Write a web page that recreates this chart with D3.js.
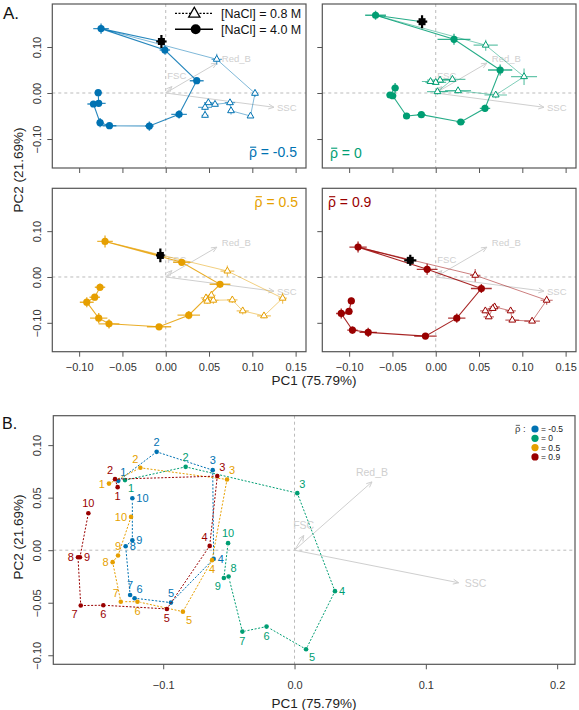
<!DOCTYPE html>
<html>
<head>
<meta charset="utf-8">
<script src="https://cdn.jsdelivr.net/npm/d3@7"></script>
<style>
body { margin: 0; background: #fff; }
svg text { font-family: "Liberation Sans", Arial, Helvetica, sans-serif; }
</style>
</head>
<body>
<div id="chart"></div>
<script>
// Groups and colours
const rhoValues = ["-0.5", "0", "0.5", "0.9"];
const groupColors = ["#0072B2", "#009E73", "#E69F00", "#990000"];

// Panel A, [NaCl] = 4.0 M : [PC1, PC2, PC1 err, PC2 err], times 1..10
const high_m05 = [
    [-0.0747, 0.140, 0.009, 0.011], [-0.001, 0.0935, 0.006, 0.010], [0.0358, 0.0268, 0.008, 0.006],
    [0.0154, -0.0464, 0.009, 0.009], [-0.0189, -0.0718, 0.005, 0.010], [-0.065, -0.071, 0.008, 0.005],
    [-0.0758, -0.0645, 0.004, 0.010], [-0.0835, -0.0239, 0.007, 0.004], [-0.0774, -0.0225, 0.008, 0.004],
    [-0.078, 0.0007, 0.004, 0.006]
];
const high_0 = [
    [-0.0695, 0.169, 0.012, 0.010], [0.0211, 0.1167, 0.019, 0.012], [0.0744, 0.050, 0.014, 0.012],
    [0.0569, -0.0333, 0.006, 0.008], [0.0289, -0.063, 0.005, 0.006], [-0.0166, -0.047, 0.005, 0.005],
    [-0.0337, -0.050, 0.004, 0.004], [-0.0497, -0.0059, 0.004, 0.005], [-0.0528, -0.0043, 0.004, 0.004],
    [-0.0469, 0.0109, 0.004, 0.011]
];
const high_05 = [
    [-0.0701, 0.0776, 0.009, 0.013], [0.0185, 0.032, 0.010, 0.006], [0.0627, -0.0159, 0.012, 0.006],
    [0.0266, -0.0833, 0.013, 0.009], [-0.0077, -0.1087, 0.014, 0.005], [-0.0655, -0.1022, 0.012, 0.010],
    [-0.0774, -0.0898, 0.010, 0.011], [-0.0912, -0.055, 0.008, 0.011], [-0.082, -0.0441, 0.006, 0.007],
    [-0.0759, -0.0224, 0.006, 0.008]
];
const high_09 = [
    [-0.0897, 0.0652, 0.010, 0.012], [-0.0099, 0.0167, 0.012, 0.012], [0.0527, -0.0252, 0.012, 0.010],
    [0.0243, -0.0898, 0.010, 0.010], [-0.0119, -0.129, 0.013, 0.006], [-0.078, -0.1209, 0.010, 0.010],
    [-0.0962, -0.1159, 0.006, 0.008], [-0.1091, -0.0796, 0.006, 0.011], [-0.1002, -0.0752, 0.004, 0.005],
    [-0.0975, -0.0522, 0.004, 0.007]
];

// Panel A, [NaCl] = 0.8 M : times 2..10 (time 1 is shared)
const low_m05 = [
    [0.0589, 0.0733, 0.006, 0.012], [0.1031, -0.0007, 0.003, 0.008], [0.0979, -0.050, 0.003, 0.004],
    [0.0754, -0.0385, 0.003, 0.008], [0.0742, -0.0211, 0.006, 0.006], [0.0569, -0.0246, 0.004, 0.004],
    [0.0492, -0.0211, 0.005, 0.004], [0.0454, -0.0311, 0.008, 0.006], [0.0454, -0.0485, 0.004, 0.005]
];
const low_0 = [
    [0.0577, 0.104, 0.014, 0.012], [0.102, 0.0355, 0.015, 0.018], [0.0693, -0.0043, 0.013, 0.007],
    [0.0258, 0.005, 0.015, 0.006], [0.002, 0.0029, 0.012, 0.006], [0.0193, 0.0297, 0.015, 0.005],
    [0.005, 0.028, 0.015, 0.005], [0.000, 0.023, 0.012, 0.004], [-0.006, 0.025, 0.010, 0.004]
];
const low_05 = [
    [0.0712, 0.013, 0.008, 0.012], [0.135, -0.0463, 0.005, 0.012], [0.1135, -0.0848, 0.008, 0.005],
    [0.0889, -0.0739, 0.007, 0.008], [0.0769, -0.050, 0.006, 0.007], [0.055, -0.0507, 0.006, 0.008],
    [0.0527, -0.0398, 0.005, 0.008], [0.0465, -0.0457, 0.006, 0.009], [0.048, -0.0528, 0.005, 0.006]
];
const low_09 = [
    [0.0456, 0.0037, 0.006, 0.014], [0.1281, -0.0507, 0.007, 0.010], [0.1113, -0.0963, 0.009, 0.004],
    [0.0884, -0.0941, 0.008, 0.004], [0.0865, -0.0739, 0.006, 0.004], [0.068, -0.0652, 0.006, 0.006],
    [0.0573, -0.0739, 0.006, 0.004], [0.0612, -0.087, 0.006, 0.004], [0.0658, -0.0687, 0.006, 0.005]
];

// Black cross (time 0)
const start_m05 = [-0.005, 0.112, 0.006, 0.014];
const start_0 = [-0.0158, 0.155, 0.006, 0.014];
const start_05 = [-0.0062, 0.047, 0.005, 0.015];
const start_09 = [-0.0294, 0.0363, 0.007, 0.012];

// Variable loadings (arrows)
const loadNames = ["SSC", "Red_B", "FSC"];
const loadPC1 = [0.125, 0.059, 0.007];
const loadPC2 = [-0.031, 0.065, 0.014];

// Panel B, mean trajectories, times 1..10
const meanB_m05 = [[-0.1342, 0.066], [-0.105, 0.0936], [-0.0623, 0.0762], [-0.0616, -0.0083], [-0.0941, -0.0499],
    [-0.1218, -0.0457], [-0.1252, -0.0426], [-0.1286, 0.0038], [-0.1235, 0.0095], [-0.1235, 0.0495]];
const meanB_0 = [[-0.1291, 0.0667], [-0.0829, 0.0793], [0.0021, 0.0543], [0.0308, -0.039], [0.0088, -0.0943],
    [-0.0213, -0.0727], [-0.0397, -0.0775], [-0.0502, -0.0251], [-0.0538, -0.0264], [-0.0506, 0.0067]];
const meanB_05 = [[-0.1413, 0.0634], [-0.1174, 0.0784], [-0.0514, 0.0673], [-0.0628, -0.0095], [-0.085, -0.0585],
    [-0.1196, -0.049], [-0.1323, -0.049], [-0.1385, -0.0114], [-0.1344, -0.0051], [-0.1245, 0.0317]];
const meanB_09 = [[-0.1347, 0.060], [-0.1367, 0.0676], [-0.0588, 0.0705], [-0.0646, 0.0041], [-0.0972, -0.0559],
    [-0.1456, -0.0524], [-0.1628, -0.0527], [-0.1649, -0.0067], [-0.1634, -0.0067], [-0.157, 0.0352]];

// Side of each time label in panel B
const sideB_m05 = ["ne", "n", "n", "e", "n", "ne", "n", "e", "e", "e"];
const sideB_0 = ["se", "n", "ne", "e", "se", "s", "s", "ne", "sw", "n"];
const sideB_05 = ["w", "nw", "ne", "s", "se", "s", "nw", "w", "n", "w"];
const sideB_09 = ["s", "nw", "ne", "nw", "s", "s", "sw", "w", "e", "n"];

// Tick values
const xTicksA = [-0.10, -0.05, 0, 0.05, 0.10, 0.15];
const yTicksA = [-0.10, 0, 0.10];
const xTicksB = [-0.1, 0, 0.1, 0.2];
const yTicksB = [-0.10, -0.05, 0, 0.05, 0.10];

const svg = d3.select("#chart").append("svg")
    .attr("width", 579).attr("height", 710);

const frameColor = "#555";
const refColor = "#bbb";
const arrowColor = "#cfcfcf";

function arrow(g, x0, y0, x1, y1) {
    const a = Math.atan2(y1 - y0, x1 - x0), L = 6, s = 0.42;
    g.append("path")
        .attr("d", `M${x0},${y0}L${x1},${y1}M${x1 - L * Math.cos(a - s)},${y1 - L * Math.sin(a - s)}L${x1},${y1}L${x1 - L * Math.cos(a + s)},${y1 - L * Math.sin(a + s)}`)
        .attr("fill", "none").attr("stroke", arrowColor).attr("stroke-width", 1);
}

// rho with a bar over it
function rhoLabel(g, x, y, text, color, size, anchor) {
    const t = g.append("text")
        .attr("x", x).attr("y", y)
        .attr("text-anchor", anchor)
        .attr("fill", color)
        .style("font-size", size + "px")
        .text(text);
    const ext = t.node().getExtentOfChar(0);
    g.append("line")
        .attr("x1", ext.x + size * 0.08).attr("x2", ext.x + ext.width - size * 0.05)
        .attr("y1", y - size * 0.7).attr("y2", y - size * 0.7)
        .attr("stroke", color).attr("stroke-width", size * 0.08);
}

function styleAxis(ax) {
    ax.select(".domain").remove();
    ax.selectAll(".tick line").attr("stroke", frameColor);
    ax.selectAll(".tick text").attr("fill", "#333").style("font-size", "11px");
}

// ---------- Panel A ----------
const panelsA = [
    { x0: 52.3, x1: 306, y0: 4, y1: 168, hi: high_m05, lo: low_m05, st: start_m05, g: 0, rhoX: 297, rhoY: 157, rhoAnchor: "end", xLab: false, yLab: true },
    { x0: 322.3, x1: 576, y0: 4, y1: 168, hi: high_0, lo: low_0, st: start_0, g: 1, rhoX: 330, rhoY: 158, rhoAnchor: "start", xLab: false, yLab: false },
    { x0: 52.3, x1: 306, y0: 188.3, y1: 351.7, hi: high_05, lo: low_05, st: start_05, g: 2, rhoX: 298, rhoY: 206.5, rhoAnchor: "end", xLab: true, yLab: true },
    { x0: 322.3, x1: 576, y0: 188.3, y1: 351.7, hi: high_09, lo: low_09, st: start_09, g: 3, rhoX: 328, rhoY: 206.5, rhoAnchor: "start", xLab: true, yLab: false }
];

panelsA.forEach(p => {
    const x = d3.scaleLinear().domain([-0.131, 0.162]).range([p.x0, p.x1]);
    const y = d3.scaleLinear().domain([-0.163, 0.1935]).range([p.y1, p.y0]);
    const col = groupColors[p.g];
    const g = svg.append("g");

    // reference lines
    g.append("line").attr("x1", x(0)).attr("x2", x(0)).attr("y1", p.y0).attr("y2", p.y1)
        .attr("stroke", refColor).attr("stroke-dasharray", "3,3");
    g.append("line").attr("x1", p.x0).attr("x2", p.x1).attr("y1", y(0)).attr("y2", y(0))
        .attr("stroke", refColor).attr("stroke-dasharray", "3,3");

    // loadings
    loadNames.forEach((n, i) => {
        const tx = x(loadPC1[i]), ty = y(loadPC2[i]);
        arrow(g, x(0), y(0), tx, ty);
        const lab = g.append("text").attr("fill", arrowColor).style("font-size", "9.5px").text(n);
        if (n === "SSC") lab.attr("x", tx + 3).attr("y", ty + 3.5);
        else if (n === "Red_B") lab.attr("x", tx + 5).attr("y", ty - 1);
        else lab.attr("x", tx + 5).attr("y", ty - 8).attr("text-anchor", "middle");
    });

    const line = d3.line().x(d => x(d[0])).y(d => y(d[1]));

    // 0.8 M trajectory (light)
    g.append("path").datum([p.hi[0]].concat(p.lo)).attr("d", line)
        .attr("fill", "none").attr("stroke", col).attr("stroke-opacity", 0.5).attr("stroke-width", 1);
    // 4.0 M trajectory
    g.append("path").datum([p.st].concat(p.hi)).attr("d", line)
        .attr("fill", "none").attr("stroke", col).attr("stroke-opacity", 0.85).attr("stroke-width", 1.1);

    // error bars
    function bars(data, opacity, width, color) {
        g.selectAll(null).data(data).enter().append("path")
            .attr("d", d => `M${x(d[0] - d[2])},${y(d[1])}H${x(d[0] + d[2])}M${x(d[0])},${y(d[1] - d[3])}V${y(d[1] + d[3])}`)
            .attr("stroke", color).attr("stroke-opacity", opacity).attr("stroke-width", width).attr("fill", "none");
    }
    bars(p.lo, 0.6, 1.2, col);
    bars(p.hi, 0.8, 1.4, col);

    // open triangles (0.8 M)
    g.selectAll(null).data(p.lo).enter().append("path")
        .attr("d", d3.symbol().type(d3.symbolTriangle).size(20))
        .attr("transform", d => `translate(${x(d[0])},${y(d[1])})`)
        .attr("fill", "#fff").attr("stroke", col).attr("stroke-width", 1);
    // filled circles (4.0 M)
    g.selectAll(null).data(p.hi).enter().append("circle")
        .attr("cx", d => x(d[0])).attr("cy", d => y(d[1])).attr("r", 3.6)
        .attr("fill", col);

    // black cross
    bars([p.st], 1, 2.2, "#000");
    g.append("rect").attr("x", x(p.st[0]) - 3.5).attr("y", y(p.st[1]) - 3.5)
        .attr("width", 7).attr("height", 7).attr("fill", "#000");

    // frame
    g.append("rect").attr("x", p.x0).attr("y", p.y0).attr("width", p.x1 - p.x0).attr("height", p.y1 - p.y0)
        .attr("fill", "none").attr("stroke", frameColor).attr("stroke-width", 1.2);

    // axes
    const ax = g.append("g").attr("transform", `translate(0,${p.y1})`)
        .call(d3.axisBottom(x).tickValues(xTicksA).tickSize(5).tickFormat(d3.format(".2f")));
    styleAxis(ax);
    if (p.xLab) ax.selectAll(".tick text").attr("y", 19).attr("dy", 0);
    else ax.selectAll(".tick text").remove();

    const ay = g.append("g").attr("transform", `translate(${p.x0},0)`)
        .call(d3.axisLeft(y).tickValues(yTicksA).tickSize(5).tickFormat(d3.format(".2f")));
    styleAxis(ay);
    if (p.yLab) ay.selectAll(".tick text").attr("transform", "rotate(-90)")
        .attr("x", 0).attr("y", -11).attr("dy", 0).attr("text-anchor", "middle");
    else ay.selectAll(".tick text").remove();

    rhoLabel(g, p.rhoX, p.rhoY, `ρ = ${rhoValues[p.g]}`, col, 14, p.rhoAnchor);
});

// legend for panel A
const legA = svg.append("g");
legA.append("line").attr("x1", 175).attr("x2", 213).attr("y1", 13.3).attr("y2", 13.3)
    .attr("stroke", "#000").attr("stroke-width", 1.2).attr("stroke-dasharray", "2,1.5");
legA.append("path").attr("d", d3.symbol().type(d3.symbolTriangle).size(55))
    .attr("transform", "translate(194.3,13.8)").attr("fill", "#fff").attr("stroke", "#000").attr("stroke-width", 1.3);
legA.append("line").attr("x1", 175).attr("x2", 213).attr("y1", 29.3).attr("y2", 29.3)
    .attr("stroke", "#000").attr("stroke-width", 1.5);
legA.append("circle").attr("cx", 195.7).attr("cy", 29.3).attr("r", 5).attr("fill", "#000");
legA.append("text").attr("x", 221).attr("y", 17.5).style("font-size", "12.5px").attr("fill", "#111").text("[NaCl] = 0.8 M");
legA.append("text").attr("x", 221).attr("y", 33.5).style("font-size", "12.5px").attr("fill", "#111").text("[NaCl] = 4.0 M");

// axis titles panel A
svg.append("text").attr("x", 314).attr("y", 385).attr("text-anchor", "middle")
    .style("font-size", "13.5px").attr("fill", "#222").text("PC1 (75.79%)");
svg.append("text").attr("transform", "translate(23,170) rotate(-90)").attr("text-anchor", "middle")
    .style("font-size", "13.5px").attr("fill", "#222").text("PC2 (21.69%)");
svg.append("text").attr("x", 3).attr("y", 19).style("font-size", "17px").attr("fill", "#111").text("A.");

// ---------- Panel B ----------
const pb = { x0: 53.3, x1: 575, y0: 415.7, y1: 664.3 };
const xB = d3.scaleLinear().domain([-0.1837, 0.2136]).range([pb.x0, pb.x1]);
const yB = d3.scaleLinear().domain([-0.1086, 0.128]).range([pb.y1, pb.y0]);
const gB = svg.append("g");

gB.append("line").attr("x1", xB(0)).attr("x2", xB(0)).attr("y1", pb.y0).attr("y2", pb.y1)
    .attr("stroke", refColor).attr("stroke-dasharray", "3,3");
gB.append("line").attr("x1", pb.x0).attr("x2", pb.x1).attr("y1", yB(0)).attr("y2", yB(0))
    .attr("stroke", refColor).attr("stroke-dasharray", "3,3");

loadNames.forEach((n, i) => {
    const tx = xB(loadPC1[i]), ty = yB(loadPC2[i]);
    arrow(gB, xB(0), yB(0), tx, ty);
    const lab = gB.append("text").attr("fill", arrowColor).style("font-size", "10.5px").text(n);
    if (n === "SSC") lab.attr("x", tx + 6).attr("y", ty + 4);
    else lab.attr("x", tx).attr("y", ty - 6).attr("text-anchor", "middle");
});

const meansB = [meanB_m05, meanB_0, meanB_05, meanB_09];
const sidesB = [sideB_m05, sideB_0, sideB_05, sideB_09];
const offsets = {
    n: [0, -6, "middle"], s: [0, 13, "middle"], e: [4, 4, "start"], w: [-4, 4, "end"],
    ne: [2, -5, "start"], nw: [-2, -5, "end"], se: [3, 12, "start"], sw: [-3, 12, "end"]
};

meansB.forEach((pts, gi) => {
    const col = groupColors[gi];
    const gap = 3;
    for (let i = 0; i < pts.length - 1; i++) {
        const ax0 = xB(pts[i][0]), ay0 = yB(pts[i][1]);
        const ax1 = xB(pts[i + 1][0]), ay1 = yB(pts[i + 1][1]);
        const len = Math.hypot(ax1 - ax0, ay1 - ay0);
        if (len <= 2 * gap) continue;
        const ux = (ax1 - ax0) / len, uy = (ay1 - ay0) / len;
        gB.append("line")
            .attr("x1", ax0 + ux * gap).attr("y1", ay0 + uy * gap)
            .attr("x2", ax1 - ux * gap).attr("y2", ay1 - uy * gap)
            .attr("stroke", col).attr("stroke-width", 1).attr("stroke-dasharray", "2,1.6");
    }
    gB.selectAll(null).data(pts).enter().append("circle")
        .attr("cx", d => xB(d[0])).attr("cy", d => yB(d[1])).attr("r", 2.3).attr("fill", col);
    gB.selectAll(null).data(pts).enter().append("text")
        .attr("x", (d, i) => xB(d[0]) + offsets[sidesB[gi][i]][0])
        .attr("y", (d, i) => yB(d[1]) + offsets[sidesB[gi][i]][1])
        .attr("text-anchor", (d, i) => offsets[sidesB[gi][i]][2])
        .attr("fill", col).style("font-size", "11px")
        .text((d, i) => i + 1);
});

gB.append("rect").attr("x", pb.x0).attr("y", pb.y0).attr("width", pb.x1 - pb.x0).attr("height", pb.y1 - pb.y0)
    .attr("fill", "none").attr("stroke", frameColor).attr("stroke-width", 1.2);

const axB = gB.append("g").attr("transform", `translate(0,${pb.y1})`)
    .call(d3.axisBottom(xB).tickValues(xTicksB).tickSize(5).tickFormat(d3.format(".1f")));
styleAxis(axB);
axB.selectAll(".tick text").attr("y", 25).attr("dy", 0);

const ayB = gB.append("g").attr("transform", `translate(${pb.x0},0)`)
    .call(d3.axisLeft(yB).tickValues(yTicksB).tickSize(5).tickFormat(d3.format(".2f")));
styleAxis(ayB);
ayB.selectAll(".tick text").attr("transform", "rotate(-90)")
    .attr("x", 0).attr("y", -12).attr("dy", 0).attr("text-anchor", "middle");

// legend panel B
const legB = gB.append("g");
rhoLabel(legB, 515, 432, "ρ :", "#333", 9.5, "start");
rhoValues.forEach((v, i) => {
    const cy = 429 + i * 9.3;
    legB.append("circle").attr("cx", 535).attr("cy", cy).attr("r", 3.6).attr("fill", groupColors[i]);
    legB.append("text").attr("x", 541).attr("y", cy + 3).style("font-size", "8.5px").attr("fill", "#222").text(`= ${v}`);
});

svg.append("text").attr("x", 314).attr("y", 708).attr("text-anchor", "middle")
    .style("font-size", "13.5px").attr("fill", "#222").text("PC1 (75.79%)");
svg.append("text").attr("transform", "translate(23,537) rotate(-90)").attr("text-anchor", "middle")
    .style("font-size", "13.5px").attr("fill", "#222").text("PC2 (21.69%)");
svg.append("text").attr("x", 2).attr("y", 428.5).style("font-size", "16px").attr("fill", "#111").text("B.");
</script>
</body>
</html>
